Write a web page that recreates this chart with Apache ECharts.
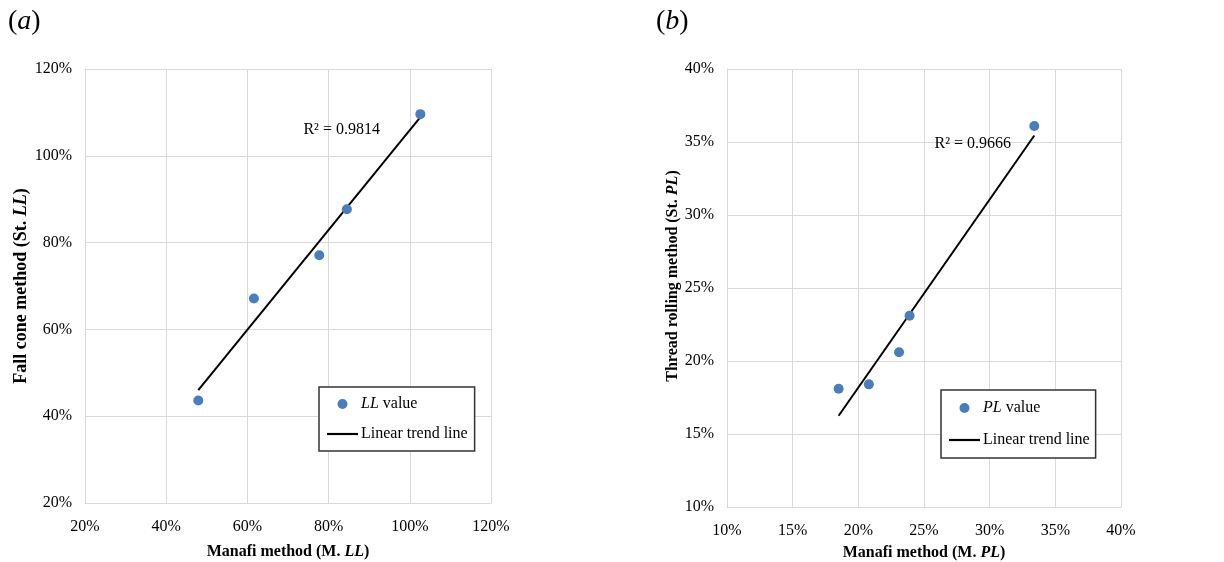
<!DOCTYPE html>
<html>
<head>
<meta charset="utf-8">
<script src="https://cdn.jsdelivr.net/npm/echarts@6/dist/echarts.min.js"></script>
<style>
html,body{margin:0;padding:0;background:#fff;}
#c{width:1224px;height:562px;}
</style>
</head>
<body>
<div id="c"></div>
<script>
// ---- data (percent) ----
const llManafi   = [47.9, 61.6, 77.7, 84.5, 102.6];
const llFallCone = [43.6, 67.1, 77.1, 87.7, 109.6];
const plManafi   = [18.5, 20.8, 23.1, 23.9, 33.4];
const plThread   = [18.1, 18.4, 20.6, 23.1, 36.1];
const llR2Text = 'R² = 0.9814';
const plR2Text = 'R² = 0.9666';
const llR2Pos = [73.8, 105.9];
const plR2Pos = [25.8, 34.9];
const llTicks = {min: 20, max: 120, interval: 20};
const plTicks = {min: 10, max: 40, interval: 5};

// least-squares trend line between min and max x
function trend(xs, ys) {
  const n = xs.length;
  const mx = xs.reduce((a, b) => a + b, 0) / n;
  const my = ys.reduce((a, b) => a + b, 0) / n;
  let sxy = 0, sxx = 0;
  for (let i = 0; i < n; i++) { sxy += (xs[i] - mx) * (ys[i] - my); sxx += (xs[i] - mx) ** 2; }
  const b = sxy / sxx, a = my - b * mx;
  const x0 = Math.min(...xs), x1 = Math.max(...xs);
  return [[x0, a + b * x0], [x1, a + b * x1]];
}
const zip = (xs, ys) => xs.map((x, i) => [x, ys[i]]);

const FONT = 'Liberation Serif';
const BLUE = '#4a7ebb';
const GRIDC = '#d9d9d9';
function richFor(size) {
  return {
    i: {fontStyle: 'italic', fontFamily: FONT, fontSize: size, color: '#000'},
    bi: {fontStyle: 'italic', fontWeight: 'bold', fontFamily: FONT, fontSize: size, color: '#000'}
  };
}

function axis(gi, t, name, nameGap, margin, nameSize, namePad) {
  return {
    type: 'value', gridIndex: gi, min: t.min, max: t.max, interval: t.interval,
    name: name, nameLocation: 'middle', nameGap: nameGap,
    nameTextStyle: {fontFamily: FONT, fontWeight: 'bold', fontSize: nameSize, color: '#000',
      rich: richFor(nameSize), padding: namePad || 0},
    axisLine: {show: true, lineStyle: {color: GRIDC, width: 1}},
    axisTick: {show: false},
    splitLine: {show: true, lineStyle: {color: GRIDC, width: 1}},
    axisLabel: {formatter: '{value}%', fontFamily: FONT, fontSize: 16, color: '#000', margin: margin}
  };
}

function r2Mark(pos, text) {
  return {
    symbol: 'circle', symbolSize: 0, silent: true,
    data: [{coord: pos, label: {show: true, position: 'right', distance: 0, formatter: text,
      fontFamily: FONT, fontSize: 16, color: '#000'}}]
  };
}

const LINE_ICON = 'path://M0 0 H100 V7 H0 Z';
function legend(left, top, first, gap, pad) {
  return {
    left: left, top: top, orient: 'vertical',
    backgroundColor: '#fff', borderColor: '#333', borderWidth: 1.5,
    padding: pad, itemGap: gap, itemWidth: 31, itemHeight: 10,
    textStyle: {fontFamily: FONT, fontSize: 16, color: '#000', rich: richFor(16), padding: [0, 0, 0, -2]},
    formatter: function (n) {
      if (n === 'LL value') return '{i|LL} value';
      if (n === 'PL value') return '{i|PL} value';
      return n;
    },
    data: [{name: first, icon: 'circle'}, {name: 'Linear trend line', icon: LINE_ICON}]
  };
}

const chart = echarts.init(document.getElementById('c'));
const titleStyle = {fontFamily: FONT, fontSize: 28, fontWeight: 'normal', color: '#000',
  rich: {i: {fontStyle: 'italic', fontFamily: FONT, fontSize: 28, color: '#000'}}};
chart.setOption({
  backgroundColor: '#fff',
  animation: false,
  title: [
    {text: '({i|a})', left: 3, top: 3, textStyle: titleStyle},
    {text: '({i|b})', left: 651, top: 3, textStyle: titleStyle}
  ],
  grid: [
    {left: 85, top: 69, width: 406, height: 434, outerBoundsMode: 'none', containLabel: false},
    {left: 727, top: 69, width: 394, height: 438, outerBoundsMode: 'none', containLabel: false}
  ],
  xAxis: [
    axis(0, llTicks, 'Manafi method (M. {bi|LL})', 41, 16, 16),
    axis(1, plTicks, 'Manafi method (M. {bi|PL})', 38, 16, 16)
  ],
  yAxis: [
    axis(0, llTicks, 'Fall cone method (St. {bi|LL})', 54, 13, 18),
    axis(1, plTicks, 'Thread rolling method (St. {bi|PL})', 34, 13, 16, [0, 0, 0, 24])
  ],
  legend: [
    legend(319, 387, 'LL value', 14, [9, 7, 9, 8]),
    legend(941, 390, 'PL value', 16, [10, 6, 10, 8])
  ],
  series: [
    {name: 'LL value', type: 'scatter', xAxisIndex: 0, yAxisIndex: 0, symbolSize: 10,
      itemStyle: {color: BLUE, opacity: 1}, data: zip(llManafi, llFallCone), z: 3},
    {name: 'Linear trend line', type: 'line', xAxisIndex: 0, yAxisIndex: 0, symbol: 'none',
      lineStyle: {color: '#000', width: 2}, itemStyle: {color: '#000'},
      data: trend(llManafi, llFallCone), markPoint: r2Mark(llR2Pos, llR2Text), z: 2},
    {name: 'PL value', type: 'scatter', xAxisIndex: 1, yAxisIndex: 1, symbolSize: 10,
      itemStyle: {color: BLUE, opacity: 1}, data: zip(plManafi, plThread), z: 3},
    {name: 'Linear trend line', type: 'line', xAxisIndex: 1, yAxisIndex: 1, symbol: 'none',
      lineStyle: {color: '#000', width: 2}, itemStyle: {color: '#000'},
      data: trend(plManafi, plThread), markPoint: r2Mark(plR2Pos, plR2Text), z: 2}
  ]
});
</script>
</body>
</html>
